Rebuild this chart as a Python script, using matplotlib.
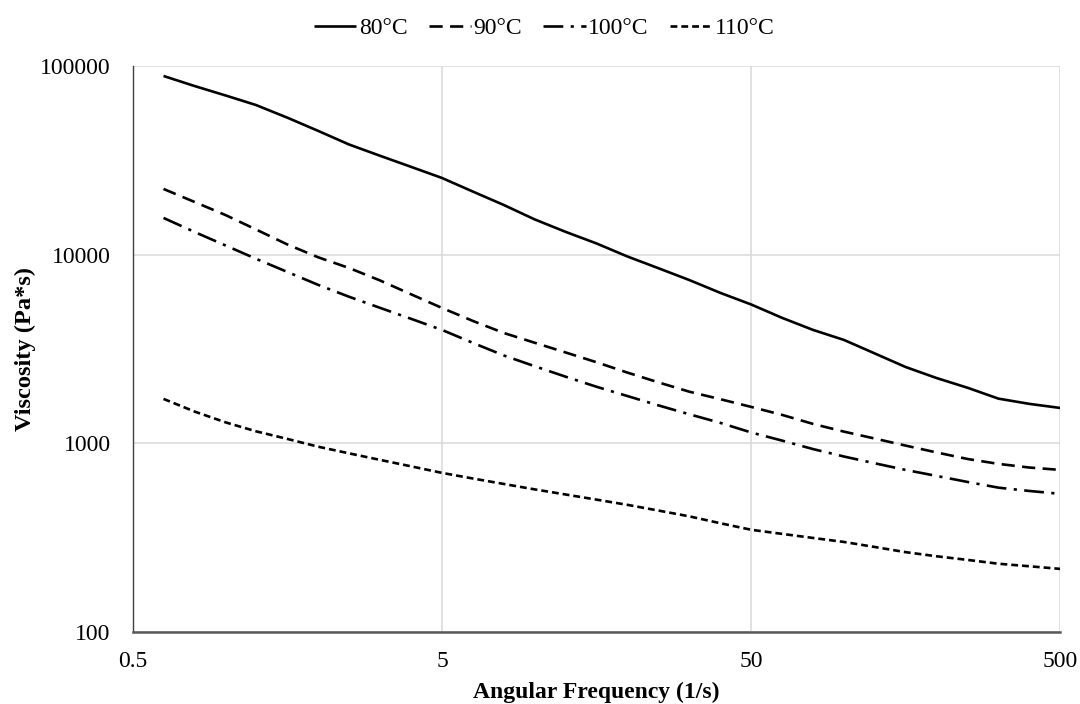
import matplotlib
matplotlib.use("Agg")
import matplotlib.pyplot as plt
from matplotlib.ticker import FixedLocator, FixedFormatter, NullLocator

plt.rcParams["font.family"] = ["Liberation Serif", "DejaVu Serif"]

# Frecuencia angular (1/s) del barrido
frecuencia = [0.628, 0.791, 0.996, 1.25, 1.58, 1.99, 2.5, 3.15, 3.97, 5.0,
              6.29, 7.92, 9.97, 12.6, 15.8, 19.9, 25.1, 31.6, 39.8, 50.1,
              63.1, 79.4, 100, 126, 158, 199, 251, 316, 398, 500]

# Viscosidad compleja (Pa*s) por temperatura
visc_80 = [88500, 78300, 69800, 62100, 53200, 45240, 38370, 33430, 29200, 25490,
           21600, 18340, 15380, 13180, 11470, 9780, 8470, 7330, 6270, 5440,
           4620, 3990, 3530, 2990, 2540, 2220, 1970, 1725, 1618, 1540]
visc_90 = [22290, 19020, 16220, 13600, 11320, 9675, 8500, 7300, 6165, 5218,
           4455, 3846, 3413, 3026, 2691, 2371, 2103, 1877, 1713, 1559,
           1414, 1267, 1153, 1059, 973, 895, 826, 778, 744, 723]
visc_100 = [15650, 13190, 11190, 9512, 8096, 6910, 5984, 5225, 4571, 3990,
            3409, 2923, 2563, 2251, 1995, 1781, 1588, 1425, 1283, 1141,
            1033, 932, 851, 783, 723, 672, 624, 582, 559, 540]
visc_110 = [1719, 1474, 1292, 1158, 1055, 959, 885, 817, 755, 697,
            651, 609, 570, 535, 503, 472, 440, 410, 377, 348,
            331, 315, 300, 282, 265, 252, 241, 230, 223, 216]

etiquetas = ["80°C", "90°C", "100°C", "110°C"]
x_ticks = [0.5, 5, 50, 500]
x_tick_labels = ["0.5", "5", "50", "500"]
y_ticks = [100, 1000, 10000, 100000]
y_tick_labels = ["100", "1000", "10000", "100000"]

fig = plt.figure(figsize=(10.8, 7.04), dpi=100)
ax = fig.add_axes([0.1231, 0.1023, 0.8584, 0.804])

lw = 1.9
estilos = ["-", (0, (5.0, 2.8)), (0, (7.5, 2.8, 1.2, 2.8)), (0, (2.6, 1.5))]
series = [visc_80, visc_90, visc_100, visc_110]
for datos, estilo, nombre in zip(series, estilos, etiquetas):
    ax.plot(frecuencia, datos, color="black", linewidth=lw, linestyle=estilo,
            label=nombre, solid_capstyle="butt", dash_capstyle="butt")

ax.set_xscale("log")
ax.set_yscale("log")
ax.set_xlim(0.5, 500)
ax.set_ylim(100, 100000)

ax.xaxis.set_major_locator(FixedLocator(x_ticks))
ax.xaxis.set_major_formatter(FixedFormatter(x_tick_labels))
ax.xaxis.set_minor_locator(NullLocator())
ax.yaxis.set_major_locator(FixedLocator(y_ticks))
ax.yaxis.set_major_formatter(FixedFormatter(y_tick_labels))
ax.yaxis.set_minor_locator(NullLocator())

ax.tick_params(axis="x", length=0, pad=14, labelsize=17)
ax.tick_params(axis="y", length=0, pad=16, labelsize=17)

ax.grid(True, which="major", color="#d9d9d9", linewidth=1.1)
ax.set_axisbelow(True)

for lado in ["top", "right"]:
    ax.spines[lado].set_visible(False)
ax.spines["left"].set_color("#404040")
ax.spines["left"].set_linewidth(1.0)
ax.spines["bottom"].set_color("#595959")
ax.spines["bottom"].set_linewidth(1.8)

ax.set_xlabel("Angular Frequency (1/s)", fontsize=17, fontweight="bold", labelpad=7)
ax.set_ylabel("Viscosity (Pa*s)", fontsize=17.6, fontweight="bold", labelpad=3)

fig.legend(loc="upper center", bbox_to_anchor=(0.504, 1.005), ncol=4, frameon=False,
           fontsize=17, handlelength=1.8, handletextpad=0.1, columnspacing=0.9)

plt.savefig("out.png", dpi=100)
plt.close()
